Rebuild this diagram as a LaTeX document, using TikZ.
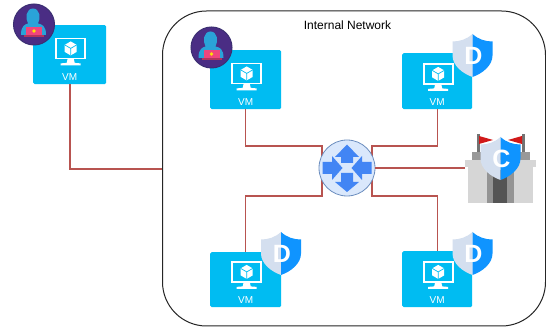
\documentclass[tikz,border=0pt]{standalone}
\usepackage{fontspec}
\setmainfont{Liberation Sans}
\usepackage{tikz}
\usetikzlibrary{calc, positioning}
\definecolor{vmblue}{HTML}{00BCF2}
\definecolor{linkred}{HTML}{B85450}
\definecolor{routerfill}{HTML}{DAE8FC}
\definecolor{routerline}{HTML}{6C8EBF}
\definecolor{routerarrow}{HTML}{4285F4}
\definecolor{shieldlight}{HTML}{D4DFEF}
\definecolor{shieldblue}{HTML}{0F94FF}
\definecolor{badgepurple}{HTML}{4A2D84}
\definecolor{badgering}{HTML}{3B2F72}
\definecolor{hoodblue}{HTML}{2AA3D8}
\definecolor{laptoppink}{HTML}{F0457D}
\tikzset{
    monitor/.pic={
        \draw [white, line width=1.6pt] (-14.5,-10) rectangle (14.5,10);
        \fill [white] (-3,10) -- (3,10) -- (4,14.5) -- (10,15) -- (10,17) -- (-10,17) -- (-10,15) -- (-4,14.5) -- cycle;
        \fill [white] (0,-7) -- (6,-3.5) -- (6,3.5) -- (0,7) -- (-6,3.5) -- (-6,-3.5) -- cycle;
        \draw [vmblue, line width=.7pt] (-6,-3.5) -- (0,0) -- (6,-3.5) (0,0) -- (0,7);
    },
    shield/.pic={
        \fill [shieldlight] (0,-21.5) .. controls (-6,-16) and (-13,-14) .. (-20,-14) -- (-20,0) .. controls (-20,10) and (-10,18) .. (0,21.5) -- cycle;
        \fill [shieldblue] (0,-21.5) .. controls (6,-16) and (13,-14) .. (20,-14) -- (20,0) .. controls (20,10) and (10,18) .. (0,21.5) -- cycle;
        \node [text=white, font=\bfseries\fontsize{25}{25}\selectfont, inner sep=0pt] (-lettr) at (1,0) {\tikzpictext};
    },
    hacker/.pic={
        \fill [badgepurple, draw=badgering, line width=1pt] (0,0) circle (20.5);
        \fill [hoodblue] (-13,10.5) .. controls (-13,1) and (-9,0) .. (-6,-1) .. controls (-9,-6) and (-8,-16) .. (-1,-16) .. controls (6,-16) and (7,-6) .. (4,-1) .. controls (8,0) and (12,1) .. (12,10.5) -- cycle;
        \fill [laptoppink] (-8,3) rectangle (8,10.5);
        \fill [laptoppink!75!black] (-10,10.5) rectangle (10,12.5);
        \fill [yellow!85!orange] (0,6.5) circle (1.8);
    },
    routerarrows/.pic={
        \fill [routerarrow] (0,-23.5) -- (12,-11) -- (6,-11) -- (6,-5) -- (-6,-5) -- (-6,-11) -- (-12,-11) -- cycle;
        \fill [routerarrow] (0,24) -- (12,14) -- (6,14) -- (6,5) -- (-6,5) -- (-6,14) -- (-12,14) -- cycle;
        \fill [routerarrow] (-4.5,0) -- (-15,-12) -- (-15,-6) -- (-24.5,-6) -- (-24.5,6) -- (-15,6) -- (-15,12) -- cycle;
        \fill [routerarrow] (4.5,0) -- (15,-12) -- (15,-6) -- (24.5,-6) -- (24.5,6) -- (15,6) -- (15,12) -- cycle;
    },
    castle/.pic={
        \fill [black!40] (-28,-16) rectangle (30,2);
        \fill [black!55] (-23.5,-34) rectangle (-20.5,-16);
        \fill [black!55] (21.5,-34) rectangle (24.5,-16);
        \fill [red!80!black!90] (-21,-32) -- (-7,-28) -- (-21,-24) -- cycle;
        \fill [red!80!black!90] (22,-32) -- (8,-28) -- (22,-24) -- cycle;
        \fill [black!16] (-32,-1) rectangle (33,35);
        \fill [black!16] (-35,-8) rectangle (36,-1);
        \fill [black!42] (-13,2) rectangle (14,35);
        \fill [black!67] (-7,2) rectangle (7,35);
    },
}
\begin{document}
\begin{tikzpicture}[x=1pt,y=-1pt,
    link/.style={draw=linkred, line width=1.4pt},
    vmbox/.style={draw=none, fill=vmblue, rounded corners=1.5pt, anchor=north west, inner sep=0pt},
    vmlabel/.style={text=white, font=\fontsize{10}{10}\selectfont, inner sep=2pt}]
    \useasboundingbox (0,0) rectangle (546,328);
    \fill [white] (0,0) rectangle (546,328);
    \node (frame) [draw=black!85, line width=1pt, rounded corners=44pt, minimum width=383pt, minimum height=315pt, inner sep=0pt] at (354,168.5) {};
    \node (nettitle) [font=\fontsize{12}{14}\selectfont, inner sep=0pt] at (347.5,25.5) {Internal Network};

    \node (vmext) [vmbox, minimum width=73pt, minimum height=59pt] at (33,25) {};
    \node (vma) [vmbox, minimum width=71pt, minimum height=59pt] at (210,50) {};
    \node (vmb) [vmbox, minimum width=70pt, minimum height=56pt] at (402,53) {};
    \node (vmc) [vmbox, minimum width=71pt, minimum height=55pt] at (210,252) {};
    \node (vmd) [vmbox, minimum width=70pt, minimum height=56pt] at (402,251) {};
    \coordinate (castlepos) at (500,168);

    \coordinate (extdown) at (70,169);
    \coordinate (frameleft) at (frame.west |- extdown);
    \coordinate (linktl) at (322,146);
    \coordinate (linkbl) at (322,196);
    \coordinate (linktr) at (372,146);
    \coordinate (linkbr) at (372,196);
    \coordinate (castleleft) at (465,168);
    \coordinate (extstart) at (vmext.south -| extdown);

    \draw [link] (extstart) -- (extdown) -- (frameleft);
    \draw [link] (vma.south) |- (linktl) -- (linkbl) -| (vmc.north);
    \draw [link] (vmb.south) |- (linktr) -- (linkbr) -| (vmd.north);
    \node (routernode) [circle, draw=routerline, fill=routerfill, line width=.8pt, minimum size=56pt, inner sep=0pt] at (347,168) {};
    \draw [link] (routernode.east) -- (castleleft);
    \pic at (routernode) {routerarrows};

    \foreach \vm/\ya in {vmext/36, vma/36, vmb/35.5, vmc/35.5, vmd/35.5} {
        \pic at ($(\vm.south)+(1,-\ya)$) {monitor};
        \node (\vm text) [vmlabel, above=1.5pt of \vm.south] {VM};
    }
    \pic at (34,24.5) {hacker};
    \pic at (211.5,47.5) {hacker};
    \pic (shb) [pic text=D] at (472.5,55.5) {shield};
    \pic (shc) [pic text=D] at (281,253.5) {shield};
    \pic (shd) [pic text=D] at (472.5,253.5) {shield};
    \pic at (castlepos) {castle};
    \pic (she) [pic text=C] at (500.5,158.5) {shield};
\end{tikzpicture}
\end{document}
